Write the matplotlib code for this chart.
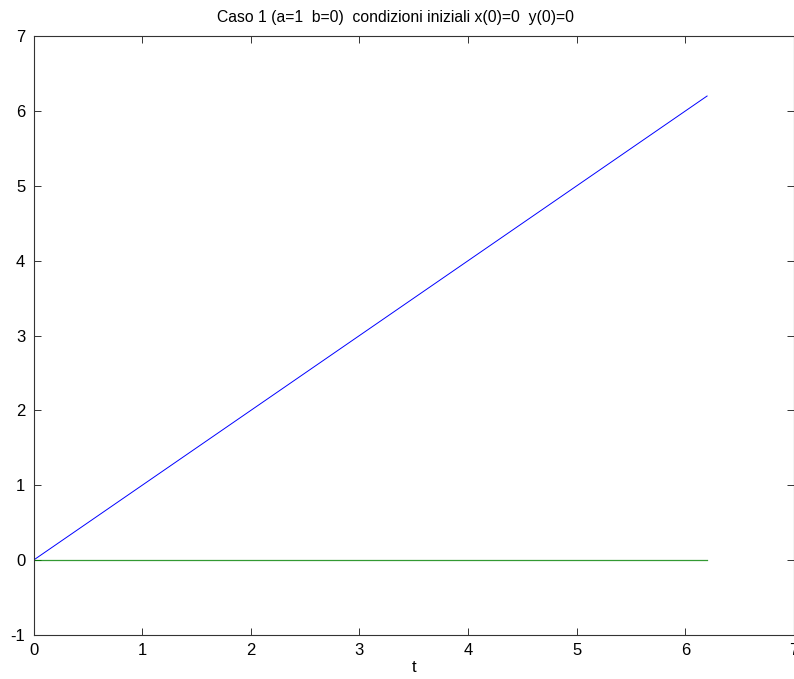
import numpy as np
import matplotlib.pyplot as plt

plt.rcParams['font.family'] = ['Liberation Sans', 'DejaVu Sans']
plt.rcParams['axes.unicode_minus'] = False

# Caso 1: a=1, b=0, x(0)=0, y(0)=0  ->  x(t)=t, y(t)=0
t = [0.0, 6.2]
x_vals = [0.0, 6.2]
y_vals = [0.0, 0.0]

title = 'Caso 1 (a=1  b=0)  condizioni iniziali x(0)=0  y(0)=0'
xticks = [0, 1, 2, 3, 4, 5, 6, 7]
yticks = [-1, 0, 1, 2, 3, 4, 5, 6, 7]

fig = plt.figure(figsize=(7.94, 6.79), dpi=100)
ax = fig.add_axes([0.0422, 0.0648, 0.9578, 0.882])

ax.plot(t, x_vals, color='#0000ff', linewidth=0.7)
ax.plot(t, y_vals, color='#008000', linewidth=0.9, alpha=0.8)

ax.set_xlim(0, 7)
ax.set_ylim(-1, 7)
ax.set_xticks(xticks)
ax.set_yticks(yticks)
ax.tick_params(direction='in', length=5, width=0.7, top=True, right=True,
               labelsize=12, colors='#333333', labelcolor='black', pad=6)
for s in ax.spines.values():
    s.set_linewidth(0.8)
    s.set_color('#333333')

ax.set_title(title, fontsize=11.3, pad=10, x=0.476)
ax.set_xlabel('t', fontsize=12, labelpad=1)

fig.savefig('out.png', dpi=100)
